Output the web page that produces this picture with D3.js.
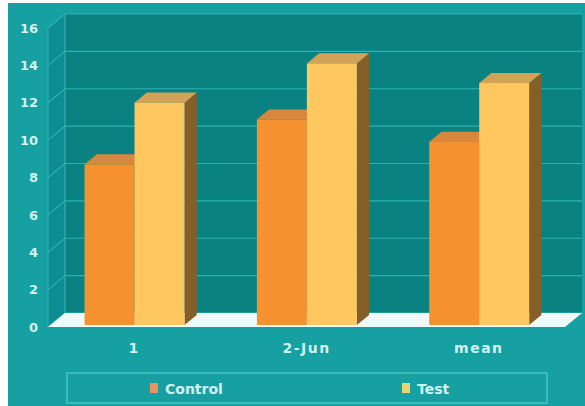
<!DOCTYPE html>
<html>
<head>
<meta charset="utf-8">
<script src="https://cdn.jsdelivr.net/npm/d3@7"></script>
<style>
  body { margin: 0; background: #fff; }
  svg { display: block; }
  .tick text { font-family: "DejaVu Sans", sans-serif; font-weight: bold; fill: #d4f2f2; }
</style>
</head>
<body>
<div id="chart"></div>
<script>
// chart data
const categories = ["1", "2-Jun", "mean"];
const seriesNames = ["Control", "Test"];
const controlValues = [8.6, 11.0, 9.8];
const testValues = [11.9, 14.0, 12.95];
const yTicks = [0, 2, 4, 6, 8, 10, 12, 14, 16];

const WIDTH = 585;
const HEIGHT = 406;
// depth offset of the back wall (oblique 3D)
const DX = 17, DY = -14;
// bars sit between these depth fractions
const BAR_FRONT = 0.14, BAR_BACK = 0.86;

const svg = d3.select("#chart")
    .append("svg")
    .attr("width", WIDTH)
    .attr("height", HEIGHT);

// outer teal background
svg.append("rect")
    .attr("x", 8).attr("y", 3)
    .attr("width", WIDTH - 8).attr("height", HEIGHT - 3)
    .attr("fill", "#16a0a2");

const xScale = d3.scaleBand()
    .domain(categories)
    .range([46, 563])
    .paddingInner(0.42)
    .paddingOuter(0.21);

const xSub = d3.scaleBand()
    .domain(seriesNames)
    .range([0, xScale.bandwidth()]);

const yScale = d3.scaleLinear()
    .domain([0, 16])
    .range([327, 28]);

const x0 = 48, x1 = 565;
const pt = (x, y, d) => [x + d * DX, y + d * DY];
const poly = (pts) => pts.map(p => p.join(",")).join(" ");

// back wall
svg.append("polygon")
    .attr("points", poly([pt(x0, yScale(16), 1), pt(x1, yScale(16), 1), pt(x1, yScale(0), 1), pt(x0, yScale(0), 1)]))
    .attr("fill", "#0a8282");

// left wall
svg.append("polygon")
    .attr("points", poly([pt(x0, yScale(16), 0), pt(x0, yScale(16), 1), pt(x0, yScale(0), 1), pt(x0, yScale(0), 0)]))
    .attr("fill", "#0e8c94");

// gridlines on back wall + left wall
const grid = svg.append("g").attr("stroke", "#2fb2b2").attr("stroke-width", 1.1).attr("fill", "none");
yTicks.forEach(t => {
    grid.append("polyline")
        .attr("points", poly([pt(x0, yScale(t), 0), pt(x0, yScale(t), 1), pt(x1, yScale(t), 1)]));
});
grid.append("line")
    .attr("x1", pt(x0, 0, 1)[0]).attr("x2", pt(x0, 0, 1)[0])
    .attr("y1", pt(0, yScale(16), 1)[1]).attr("y2", pt(0, yScale(0), 1)[1]);
grid.append("line")
    .attr("x1", x0).attr("x2", x0)
    .attr("y1", yScale(16)).attr("y2", yScale(0));

// floor
svg.append("polygon")
    .attr("points", poly([pt(x0, yScale(0), 0), pt(x1, yScale(0), 0), pt(x1, yScale(0), 1), pt(x0, yScale(0), 1)]))
    .attr("fill", "#eefafa");

// bars
const colors = {
    Control: { front: "#f5922f", top: "#d9873c", side: "#a0602a" },
    Test: { front: "#ffc760", top: "#d3a259", side: "#846028" }
};
const rows = [];
categories.forEach((c, i) => {
    rows.push({ cat: c, s: "Control", v: controlValues[i] });
    rows.push({ cat: c, s: "Test", v: testValues[i] });
});

const bars = svg.selectAll(".bar")
    .data(rows)
    .enter()
    .append("g")
    .attr("class", "bar");

bars.each(function (d) {
    const g = d3.select(this);
    const xl = xScale(d.cat) + xSub(d.s);
    const xr = xl + xSub.bandwidth();
    const yt = yScale(d.v), yb = yScale(0);
    const c = colors[d.s];
    // right side
    g.append("polygon")
        .attr("points", poly([pt(xr, yt, BAR_FRONT), pt(xr, yt, BAR_BACK), pt(xr, yb, BAR_BACK), pt(xr, yb, BAR_FRONT)]))
        .attr("fill", c.side);
    // top
    g.append("polygon")
        .attr("points", poly([pt(xl, yt, BAR_FRONT), pt(xr, yt, BAR_FRONT), pt(xr, yt, BAR_BACK), pt(xl, yt, BAR_BACK)]))
        .attr("fill", c.top);
    // front
    const f = pt(xl, yt, BAR_FRONT);
    g.append("rect")
        .attr("x", f[0]).attr("y", f[1])
        .attr("width", xr - xl)
        .attr("height", yb - yt)
        .attr("fill", c.front);
});

// y axis labels
svg.append("g")
    .attr("transform", "translate(38,0)")
    .call(d3.axisLeft(yScale).tickValues(yTicks).tickSize(0).tickPadding(0))
    .attr("font-size", "13px")
    .call(g => g.select(".domain").remove());

// x axis labels
svg.append("g")
    .attr("transform", "translate(2," + 343 + ")")
    .call(d3.axisBottom(xScale).tickSize(0).tickPadding(0))
    .attr("font-size", "14px")
    .call(g => g.selectAll("text").attr("letter-spacing", "1.5px"))
    .call(g => g.select(".domain").remove());

// legend
const legend = svg.append("g");
legend.append("rect")
    .attr("x", 67).attr("y", 373)
    .attr("width", 480).attr("height", 30)
    .attr("fill", "none")
    .attr("stroke", "#5ccaca")
    .attr("stroke-width", 1.2);

const legendX = [150, 402];
const swatch = ["#ec9262", "#e2d572"];
seriesNames.forEach((s, i) => {
    legend.append("rect")
        .attr("x", legendX[i]).attr("y", 383)
        .attr("width", 8).attr("height", 10)
        .attr("fill", swatch[i]);
    legend.append("text")
        .attr("x", legendX[i] + 15).attr("y", 394)
        .attr("font-family", "DejaVu Sans, sans-serif")
        .attr("font-weight", "bold")
        .attr("font-size", "14px")
        .attr("fill", "#d4f2f2")
        .text(s);
});
</script>
</body>
</html>
